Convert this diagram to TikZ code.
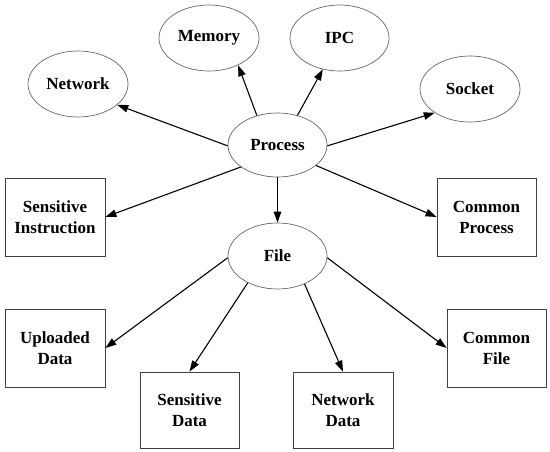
\documentclass[tikz,border=0pt]{standalone}
\usepackage{fontspec}
\setmainfont{Liberation Serif}
\usetikzlibrary{shapes.geometric,arrows.meta}
\tikzset{
  ell/.style={ellipse, draw=black!60, line width=0.7pt, inner sep=0pt, minimum width=100pt, minimum height=66pt, font=\bfseries\fontsize{17}{21}\selectfont, align=center},
  box/.style={rectangle, draw=black!75, line width=0.8pt, inner sep=0pt, minimum width=100pt, minimum height=78pt, font=\bfseries\fontsize{17}{21}\selectfont, align=center},
  arr/.style={line width=1.1pt, -{Triangle[length=11pt,width=7.5pt]}}
}
\begin{document}
\begin{tikzpicture}[x=1pt,y=-1pt]
\useasboundingbox (0,0) rectangle (550,452);
\node[ell] (net) at (78,84) {Network};
\node[ell] (mem) at (209,38) {Memory};
\node[ell, minimum width=99pt] (ipc) at (339.5,38) {IPC};
\node[ell] (sock) at (470,89) {Socket};
\node[ell, minimum width=99pt, minimum height=64pt] (proc) at (277.5,145) {Process};
\node[ell, minimum width=99pt] (file) at (277.5,256) {File};
\node[box] (si) at (55,217) {Sensitive\\Instruction};
\node[box, minimum width=99pt] (cp) at (486.5,217) {Common\\Process};
\node[box] (ud) at (55,348) {Uploaded\\Data};
\node[box, minimum width=99pt, minimum height=76pt] (sd) at (189.5,410) {Sensitive\\Data};
\node[box, minimum height=76pt] (nd) at (343,410) {Network\\Data};
\node[box, minimum width=99pt] (cf) at (496.5,348) {Common\\File};
\draw[arr] (proc.181) -- (net.-28);
\draw[arr] (proc.125) -- (mem.-43);
\draw[arr] (proc.56) -- (ipc.242);
\draw[arr] (proc.-1) -- (sock.214);
\draw[arr] (proc.-28.5) -- (cp.west);
\draw[arr] (proc.211.5) -- (si.east);
\draw[arr] (proc.270) -- (file.90);
\draw[arr] (file.182) -- (ud.east);
\draw[arr] (file.222.5) -- (sd.north);
\draw[arr] (file.314.5) -- (nd.north);
\draw[arr] (file.358) -- (cf.west);
\end{tikzpicture}
\end{document}
